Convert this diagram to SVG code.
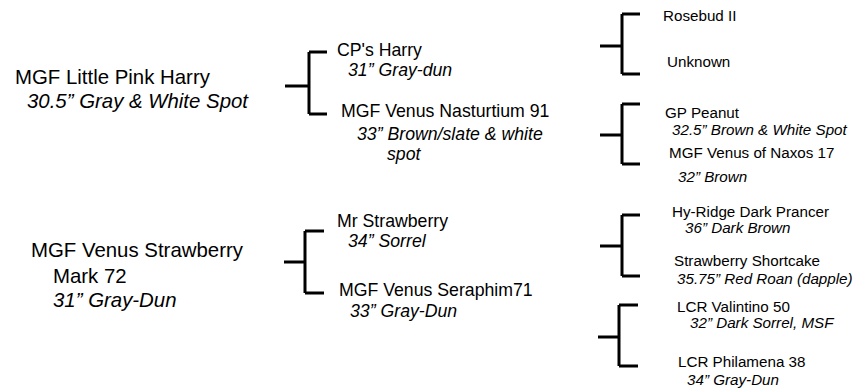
<svg xmlns="http://www.w3.org/2000/svg" width="861" height="388" viewBox="0 0 861 388">
<style>
text{font-family:"Liberation Sans",Arial,sans-serif;fill:#000}
.l{font-size:20.4px}
.m{font-size:17.7px}
.r{font-size:15.2px}
.i{font-style:italic}
.b{fill:none;stroke:#000;stroke-width:3;stroke-linecap:butt;stroke-linejoin:miter}
</style>
<rect width="861" height="388" fill="#fff"/>
<g id="connectors">
<path class="b" d="M285 86H309M309 52V114M309 52H327M309 114H327"/>
<path class="b" d="M284 262H305M305 231V293M305 231H324M305 293H324"/>
<path class="b" d="M600 46H622M622 14V74M622 14H640M622 74H640"/>
<path class="b" d="M600 135H622M622 104V164M622 104H640M622 164H640"/>
<path class="b" d="M600 246H622M622 215V276M622 215H640M622 276H640"/>
<path class="b" d="M598 337H619M619 305V366M619 305H638M619 366H638"/>
</g>
<g id="n-little-pink-harry">
<text class="l" x="15" y="84">MGF Little Pink Harry</text>
<text class="l i" x="27" y="108">30.5” Gray &amp; White Spot</text>
</g>
<g id="n-venus-strawberry-mark">
<text class="l" x="31" y="257">MGF Venus Strawberry</text>
<text class="l" x="53" y="283">Mark 72</text>
<text class="l i" x="53" y="307">31” Gray-Dun</text>
</g>
<g id="n-cps-harry">
<text class="m" x="337" y="56">CP's Harry</text>
<text class="m i" x="348" y="76">31” Gray-dun</text>
</g>
<g id="n-nasturtium">
<text class="m" x="341" y="117">MGF Venus Nasturtium 91</text>
<text class="m i" x="357" y="140">33” Brown/slate &amp; white</text>
<text class="m i" x="387" y="160">spot</text>
</g>
<g id="n-mr-strawberry">
<text class="m" x="337" y="227">Mr Strawberry</text>
<text class="m i" x="348" y="247">34” Sorrel</text>
</g>
<g id="n-seraphim">
<text class="m" x="339" y="296">MGF Venus Seraphim71</text>
<text class="m i" x="350" y="317">33” Gray-Dun</text>
</g>
<g id="n-rosebud">
<text class="r" x="663" y="21">Rosebud II</text>
</g>
<g id="n-unknown">
<text class="r" x="667" y="67">Unknown</text>
</g>
<g id="n-gp-peanut">
<text class="r" x="665" y="118">GP Peanut</text>
<text class="r i" x="672" y="135">32.5” Brown &amp; White Spot</text>
</g>
<g id="n-naxos">
<text class="r" x="669" y="158">MGF Venus of Naxos 17</text>
<text class="r i" x="678" y="182">32” Brown</text>
</g>
<g id="n-hy-ridge">
<text class="r" x="672" y="217">Hy-Ridge Dark Prancer</text>
<text class="r i" x="685" y="233">36” Dark Brown</text>
</g>
<g id="n-shortcake">
<text class="r" x="674" y="266">Strawberry Shortcake</text>
<text class="r i" x="677" y="284">35.75” Red Roan (dapple)</text>
</g>
<g id="n-valintino">
<text class="r" x="677" y="312">LCR Valintino 50</text>
<text class="r i" x="690" y="328">32” Dark Sorrel, MSF</text>
</g>
<g id="n-philamena">
<text class="r" x="678" y="367">LCR Philamena 38</text>
<text class="r i" x="687" y="385">34” Gray-Dun</text>
</g>
</svg>
